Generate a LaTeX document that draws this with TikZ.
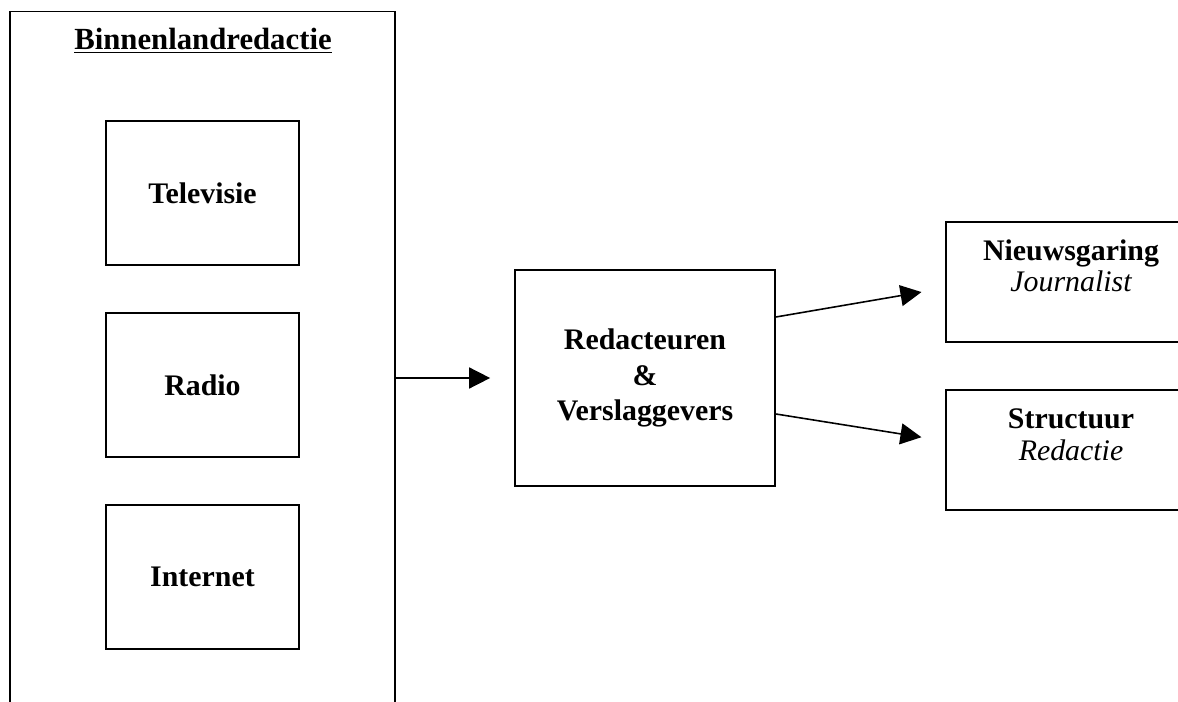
\documentclass[tikz,border=0pt]{standalone}
\usepackage{fontspec}
\setmainfont{Liberation Serif}
\usetikzlibrary{arrows.meta}

\begin{document}
\begin{tikzpicture}[x=0.02cm, y=-0.02cm,
        box/.style={draw, line width=1pt, align=center, font=\fontsize{17}{20}\selectfont\bfseries},
        medium/.style={box, minimum width=3.86cm, minimum height=2.88cm},
        side/.style={draw, line width=1pt, minimum width=5cm, minimum height=2.4cm},
        sidetext/.style={align=center, font=\fontsize{17}{18}\selectfont\bfseries},
        arr/.style={-{Triangle[length=0.42cm, width=0.42cm]}, line width=0.9pt, shorten >=0.48cm}]
        \path[use as bounding box, clip] (0,0) rectangle (1178,702);

        % binnenland column, open at the bottom
        \node[draw, line width=1pt, minimum width=7.7cm, minimum height=14.3cm] (outer) at (202.5,369) {};
        \node[font=\fontsize{17.5}{20}\selectfont\bfseries] (title) at (203,41) {\underline{Binnenlandredactie}};

        \node[medium] (tv) at (202.5,193) {Televisie};
        \node[medium] (radio) at (202.5,385) {Radio};
        \node[medium] (internet) at (202.5,577) {Internet};

        \node[box, minimum width=5.2cm, minimum height=4.32cm] (red) at (645,378) {Redacteuren\\ \&\\ Verslaggevers};

        \node[side] (nieuws) at (1071,282) {};
        \node[sidetext] (nieuwstext) at ([yshift=0.32cm]nieuws.center) {Nieuwsgaring\\ {\mdseries\itshape Journalist}};
        \node[side] (struct) at (1071,450) {};
        \node[sidetext] (structtext) at ([yshift=0.3cm]struct.center) {Structuur\\ {\mdseries\itshape Redactie}};

        \draw[arr] (outer.east |- red.west) -- (red.west);
        \draw[arr] ([yshift=1.22cm]red.east) -- ([yshift=-0.12cm]nieuws.west);
        \draw[arr] ([yshift=-0.72cm]red.east) -- ([yshift=0.18cm]struct.west);
    \end{tikzpicture}
\end{document}
